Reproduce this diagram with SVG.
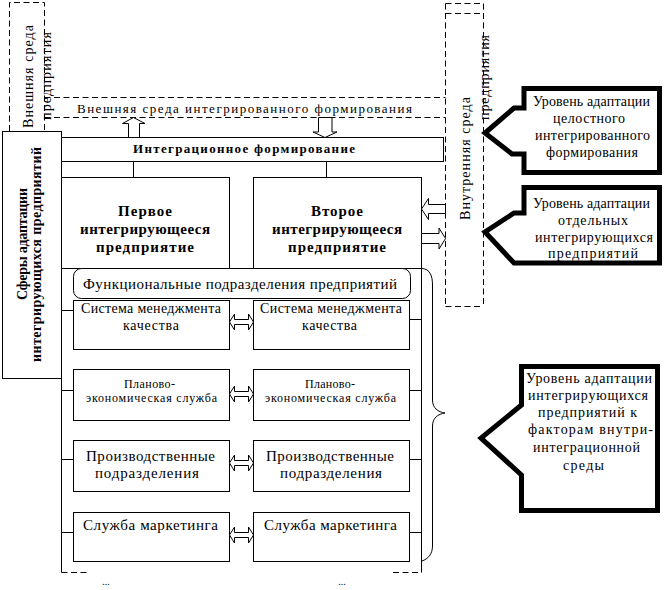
<svg xmlns="http://www.w3.org/2000/svg" width="664" height="590" viewBox="0 0 664 590">
<style>
.ln{stroke:#000;stroke-width:1;fill:none}
.bx{fill:#fff;stroke:#000;stroke-width:1}
.dash{stroke:#000;stroke-width:1;stroke-dasharray:6 3.5;fill:none}
.arr{fill:#fff;stroke:#000;stroke-width:1}
.co{fill:#fff;stroke:#000;stroke-width:5;stroke-linejoin:miter}
text{font-family:"Liberation Serif","Times New Roman",serif;fill:#000}
.t13{font-size:13px}
.t14{font-size:14px}
.t15{font-size:15px}
.t12{font-size:12px}
.b{font-weight:bold}
.m{text-anchor:middle}
</style>
<rect width="664" height="590" fill="#fff"/>

<g id="env-enterprise">
<path class="dash" d="M9.5,131 V2.5 H44.5 V131"/>
<text class="t14" transform="translate(33,76.5) rotate(-90)" x="-51.5" y="0" textLength="103" lengthAdjust="spacing">Внешняя среда</text>
<text class="t14" transform="translate(51,76) rotate(-90)" x="-44" y="0" textLength="88" lengthAdjust="spacing">предприятия</text>
</g>

<g id="env-integrated">
<path class="dash" d="M44.5,97.5 H445.5 M44.5,117.5 H445.5"/>
<text class="t13" x="77" y="113" textLength="335" lengthAdjust="spacing">Внешняя среда интегрированного формирования</text>
</g>

<g id="internal-env">
<path class="dash" d="M445.5,3.5 V306.5 M483.5,3.5 V306.5 M445.5,3.5 H483.5 M445.5,13.5 H483.5 M445.5,306.5 H483.5"/>
<text class="t14" transform="translate(470,158.5) rotate(-90)" x="-61.5" y="0" textLength="123" lengthAdjust="spacing">Внутренняя среда</text>
<text class="t14" transform="translate(489,77.5) rotate(-90)" x="-42.5" y="0" textLength="85" lengthAdjust="spacing">предприятия</text>
</g>

<g id="spheres">
<rect class="bx" x="2.5" y="131.5" width="59" height="247"/>
<text class="t14 b" transform="translate(27,244) rotate(-90)" x="-56" y="0" textLength="112" lengthAdjust="spacing">Сферы адаптации</text>
<text class="t14 b" transform="translate(41,254.5) rotate(-90)" x="-107.5" y="0" textLength="215" lengthAdjust="spacing">интегрирующихся предприятий</text>
</g>

<g id="integration">
<rect class="bx" x="61.5" y="137.5" width="382" height="24"/>
<text class="t13 b" x="133" y="153" textLength="222" lengthAdjust="spacing">Интеграционное формирование</text>
</g>

<g id="enterprise1">
<rect class="bx" x="61.5" y="177.5" width="168" height="91"/>
<text class="t15 b" x="118" y="216" textLength="54" lengthAdjust="spacing">Первое</text>
<text class="t15 b" x="80" y="234" textLength="130" lengthAdjust="spacing">интегрирующееся</text>
<text class="t15 b" x="96" y="252" textLength="98" lengthAdjust="spacing">предприятие</text>
</g>

<g id="enterprise2">
<rect class="bx" x="253.5" y="177.5" width="168" height="91"/>
<text class="t15 b" x="311" y="216" textLength="52" lengthAdjust="spacing">Второе</text>
<text class="t15 b" x="272" y="234" textLength="130" lengthAdjust="spacing">интегрирующееся</text>
<text class="t15 b" x="288" y="252" textLength="98" lengthAdjust="spacing">предприятие</text>
</g>

<g id="functional">
<rect class="bx" x="73.5" y="268.5" width="337" height="30" rx="8" ry="8"/>
<text class="t15" x="83" y="289" textLength="314" lengthAdjust="spacing">Функциональные подразделения предприятий</text>
</g>

<g id="qms1">
<rect class="bx" x="73.5" y="300.5" width="156" height="49"/>
<text class="t14" x="81" y="313" textLength="140" lengthAdjust="spacing">Система менеджмента</text>
<text class="t14" x="123" y="330" textLength="56" lengthAdjust="spacing">качества</text>
</g>
<g id="qms2">
<rect class="bx" x="253.5" y="300.5" width="156" height="49"/>
<text class="t14" x="260" y="313" textLength="142" lengthAdjust="spacing">Система менеджмента</text>
<text class="t14" x="302" y="330" textLength="55" lengthAdjust="spacing">качества</text>
</g>

<g id="plan1">
<rect class="bx" x="73.5" y="369.5" width="156" height="51"/>
<text class="t12" x="124" y="388" textLength="51" lengthAdjust="spacing">Планово-</text>
<text class="t12" x="86" y="402" textLength="131" lengthAdjust="spacing">экономическая служба</text>
</g>
<g id="plan2">
<rect class="bx" x="253.5" y="369.5" width="156" height="51"/>
<text class="t12" x="305" y="388" textLength="50" lengthAdjust="spacing">Планово-</text>
<text class="t12" x="265" y="402" textLength="131" lengthAdjust="spacing">экономическая служба</text>
</g>

<g id="prod1">
<rect class="bx" x="73.5" y="440.5" width="156" height="51"/>
<text class="t15" x="86" y="461" textLength="129" lengthAdjust="spacing">Производственные</text>
<text class="t15" x="95" y="478" textLength="104" lengthAdjust="spacing">подразделения</text>
</g>
<g id="prod2">
<rect class="bx" x="253.5" y="440.5" width="156" height="51"/>
<text class="t15" x="266" y="461" textLength="128" lengthAdjust="spacing">Производственные</text>
<text class="t15" x="280" y="478" textLength="102" lengthAdjust="spacing">подразделения</text>
</g>

<g id="mkt1">
<rect class="bx" x="73.5" y="512.5" width="156" height="49"/>
<text class="t15" x="83" y="530" textLength="135" lengthAdjust="spacing">Служба маркетинга</text>
</g>
<g id="mkt2">
<rect class="bx" x="253.5" y="512.5" width="156" height="49"/>
<text class="t15" x="264" y="530" textLength="133" lengthAdjust="spacing">Служба маркетинга</text>
</g>

<g id="connectors">
<path class="ln" d="M133.5,161.5 V177.5 M326.5,161.5 V177.5"/>
<path class="ln" d="M61.5,268.5 V572.5 M421.5,268.5 V572.5"/>
<path class="ln" d="M61.5,310.5 H73.5 M61.5,390.5 H73.5 M61.5,459.5 H73.5 M61.5,532.5 H73.5"/>
<path class="ln" d="M409.5,319.5 H421.5 M409.5,390.5 H421.5 M409.5,459.5 H421.5 M409.5,532.5 H421.5"/>
<path class="dash" d="M61.5,572.5 H90 M393,572.5 H421.5"/>
<path class="ln" d="M422,268.5 C430,269 432.5,276 432.5,285 L432.5,400 C432.5,408 438,412 445,413 C438,414 432.5,418 432.5,426 L432.5,546 C432.5,554 428,559 422,561"/>
<polygon class="arr" points="128.5,137.5 128.5,123.5 122.5,123.5 133.5,117.5 145,123.5 139.5,123.5 139.5,137.5"/>
<polygon class="arr" points="318.5,117.5 318.5,132 313,132 325,137.5 337,132 332,132 332,117.5"/>
<polygon class="arr" points="445.5,204.5 428.5,204.5 428.5,198.5 421.5,209 428.5,219.5 428.5,213.5 445.5,213.5"/>
<polygon class="arr" points="421.5,233.5 439,233.5 439,228 445.5,238.5 439,249 439,243.5 421.5,243.5"/>
<polygon class="arr" points="229.5,322 234.5,314 234.5,319.5 248.5,319.5 248.5,314 253.5,322 248.5,330 248.5,324.5 234.5,324.5 234.5,330"/>
<polygon class="arr" points="229.5,394 234.5,386 234.5,391.5 248.5,391.5 248.5,386 253.5,394 248.5,402 248.5,396.5 234.5,396.5 234.5,402"/>
<polygon class="arr" points="229.5,463 234.5,455 234.5,460.5 248.5,460.5 248.5,455 253.5,463 248.5,471 248.5,465.5 234.5,465.5 234.5,471"/>
<polygon class="arr" points="229.5,535 234.5,527 234.5,532.5 248.5,532.5 248.5,527 253.5,535 248.5,543 248.5,537.5 234.5,537.5 234.5,543"/>
<text x="106" y="585" font-size="10" class="m">...</text>
<text x="342" y="585" font-size="10" class="m">...</text>
</g>

<g id="callout1">
<path class="co" d="M524,88.5 H659.5 V172.5 H524 V154 H512 L485,133 L514,108 H524 Z"/>
<text class="t14" x="533" y="106" textLength="117" lengthAdjust="spacing">Уровень адаптации</text>
<text class="t14" x="553" y="123" textLength="72" lengthAdjust="spacing">целостного</text>
<text class="t14" x="535" y="140" textLength="115" lengthAdjust="spacing">интегрированного</text>
<text class="t14" x="546" y="157" textLength="92" lengthAdjust="spacing">формирования</text>
</g>

<g id="callout2">
<path class="co" d="M524,187.5 H659.5 V263 H514 L485,232 L514,213 H524 Z"/>
<text class="t14" x="533" y="208" textLength="117" lengthAdjust="spacing">Уровень адаптации</text>
<text class="t14" x="558" y="225" textLength="70" lengthAdjust="spacing">отдельных</text>
<text class="t14" x="535" y="242" textLength="118" lengthAdjust="spacing">интегрирующихся</text>
<text class="t14" x="548" y="258" textLength="90" lengthAdjust="spacing">предприятий</text>
</g>

<g id="callout3">
<path class="co" d="M521.5,366.5 H657.5 V510.5 H521.5 V475 L481,438 L521.5,405 Z"/>
<text class="t14" x="526" y="383" textLength="126" lengthAdjust="spacing">Уровень адаптации</text>
<text class="t14" x="528" y="400" textLength="120" lengthAdjust="spacing">интегрирующихся</text>
<text class="t14" x="538" y="417" textLength="99" lengthAdjust="spacing">предприятий к</text>
<text class="t14" x="528" y="434" textLength="125" lengthAdjust="spacing">факторам внутри-</text>
<text class="t14" x="533" y="452" textLength="107" lengthAdjust="spacing">интеграционной</text>
<text class="t14" x="563" y="470" textLength="41" lengthAdjust="spacing">среды</text>
</g>
</svg>
